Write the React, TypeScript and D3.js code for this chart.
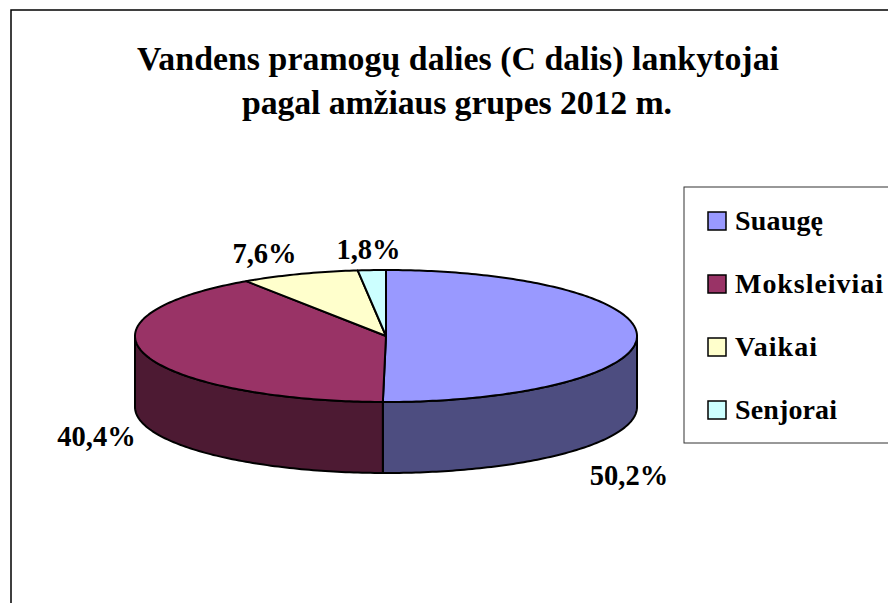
import React from "react";
import * as d3 from "d3";

const categories = ["Suaugę", "Moksleiviai", "Vaikai", "Senjorai"];
const values = [50.2, 40.4, 7.6, 1.8];
const valueLabels = ["50,2%", "40,4%", "7,6%", "1,8%"];
const topColors = ["#9999ff", "#993366", "#ffffcc", "#ccffff"];
const sideColors = ["#4d4d80", "#4d1a33", "#808066", "#668080"];
const titleLines = ["Vandens pramogų dalies (C dalis) lankytojai", "pagal amžiaus grupes 2012 m."];
const titleWidths = [642, 430];
const labelPos: [number, number][] = [[629, 485], [96.5, 446], [264.5, 263], [368.5, 259]];
const legendWidths = [88, 148, 82, 102];

const cx = 386, cy = 336, rx = 251, ry = 66, depth = 71;
const font = "'Liberation Serif', 'Times New Roman', serif";

const px = (a: number) => cx + rx * Math.sin(a);
const py = (a: number) => cy - ry * Math.cos(a);

function arcPts(a0: number, a1: number, dy = 0): [number, number][] {
  const n = Math.max(2, Math.ceil((a1 - a0) * 60));
  return d3.range(n + 1).map((i) => {
    const a = a0 + ((a1 - a0) * i) / n;
    return [px(a), py(a) + dy] as [number, number];
  });
}

const line = d3.line();

export default function App() {
  const arcs = d3.pie<number>().sort(null)(values);
  const legendY = d3.scalePoint<string>().domain(categories).range([221, 410]);
  const visibleSide = (a0: number, a1: number) => {
    const lo = Math.max(a0, Math.PI / 2), hi = Math.min(a1, (3 * Math.PI) / 2);
    return hi > lo ? [lo, hi] : null;
  };
  return (
    <svg width={888} height={603} style={{ position: "absolute", left: 0, top: 0, background: "#fff" }} fontFamily={font} fontWeight="bold">
      <rect x={11} y={10} width={1000} height={1000} fill="#fff" stroke="#000" strokeWidth={1.5} />
      {titleLines.map((t, i) => (
        <text key={t} x={458 - i} y={70 + i * 44} textAnchor="middle" fontSize={33.8} fill="#000" textLength={titleWidths[i]} lengthAdjust="spacing">{t}</text>
      ))}
      {arcs.map((d, i) => {
        const s = visibleSide(d.startAngle, d.endAngle);
        if (!s) return null;
        const pts = [...arcPts(s[0], s[1]), ...arcPts(s[0], s[1], depth).reverse()];
        return <path key={i} d={line(pts)! + "Z"} fill={sideColors[i]} stroke="#000" strokeWidth={2} strokeLinejoin="round" />;
      })}
      {arcs.map((d, i) => {
        const pts: [number, number][] = [[cx, cy], ...arcPts(d.startAngle, d.endAngle)];
        return <path key={i} d={line(pts)! + "Z"} fill={topColors[i]} stroke="#000" strokeWidth={2} strokeLinejoin="round" />;
      })}
      {valueLabels.map((t, i) => (
        <text key={t} x={labelPos[i][0]} y={labelPos[i][1]} textAnchor="middle" fontSize={28.5} fill="#000">{t}</text>
      ))}
      <rect x={684} y={187} width={300} height={256} fill="#fff" stroke="#333" strokeWidth={1} />
      {categories.map((c, i) => (
        <g key={c}>
          <rect x={708} y={legendY(c)! - 9} width={18} height={18} fill={topColors[i]} stroke="#000" strokeWidth={1.5} />
          <text x={735} y={legendY(c)! + 9} fontSize={28} fill="#000" textLength={legendWidths[i]} lengthAdjust="spacing">{c}</text>
        </g>
      ))}
    </svg>
  );
}
